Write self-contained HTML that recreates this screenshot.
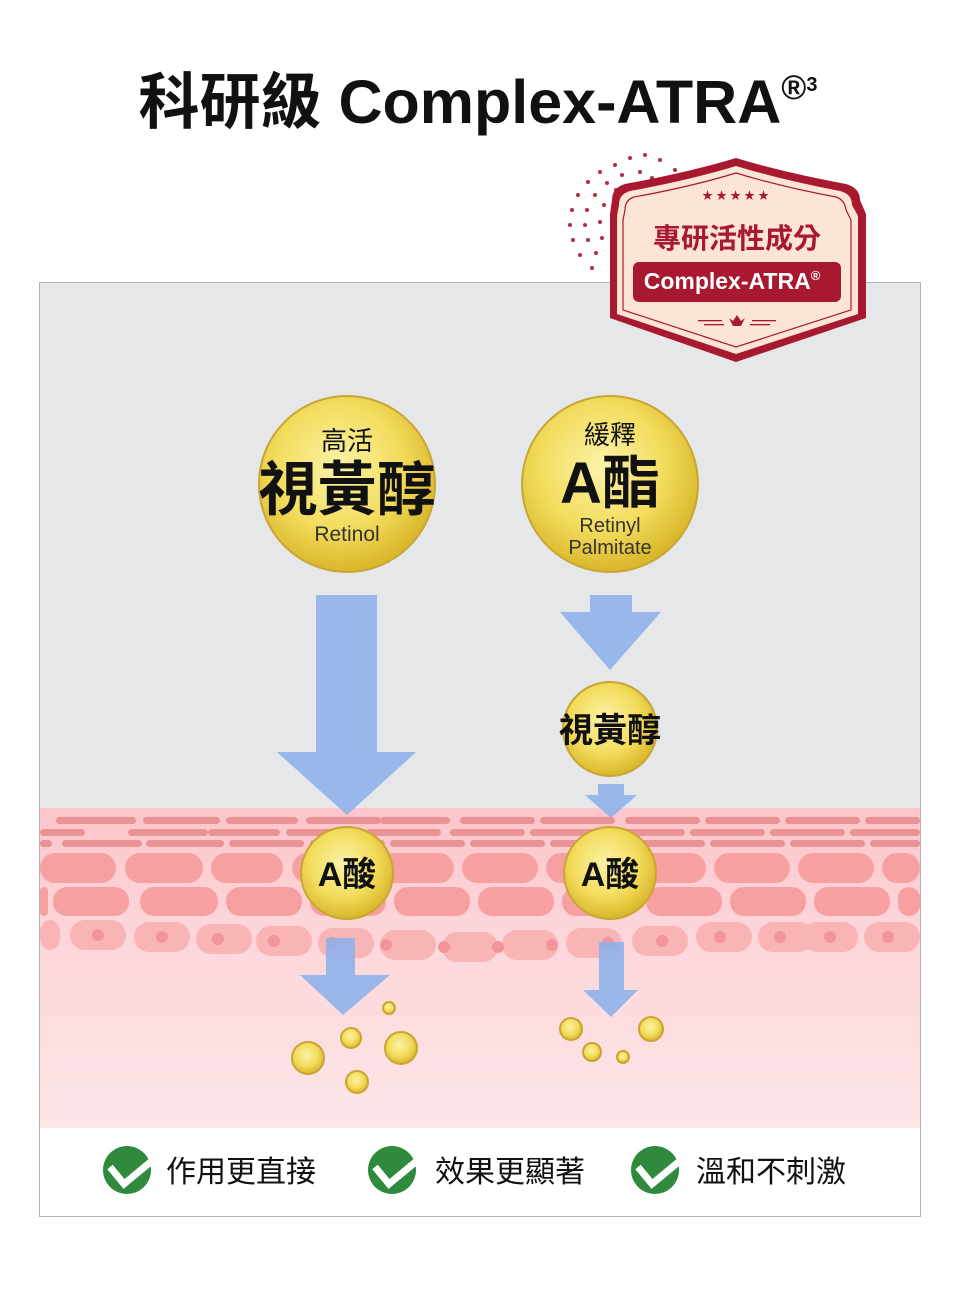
<!DOCTYPE html>
<html><head><meta charset="utf-8"><style>
html,body{margin:0;padding:0;background:#fff;}
body{width:960px;height:1289px;overflow:hidden;}
text{font-family:"Liberation Sans","Noto Sans CJK TC",sans-serif;}
</style></head><body>
<svg width="960" height="1289" viewBox="0 0 960 1289" xmlns="http://www.w3.org/2000/svg">
<defs>
<radialGradient id="gold" cx="45%" cy="40%" r="60%">
<stop offset="0" stop-color="#fbf3a8"/><stop offset="0.6" stop-color="#f3dc5c"/><stop offset="1" stop-color="#d9b62a"/>
</radialGradient>
<linearGradient id="skin" x1="0" y1="0" x2="0" y2="1">
<stop offset="0" stop-color="#fcc6cb"/><stop offset="0.4" stop-color="#fdd6da"/><stop offset="1" stop-color="#fde6e8"/>
</linearGradient>
</defs>
<text x="478" y="123" text-anchor="middle" font-size="61" font-weight="bold" fill="#111">科研級 Complex-ATRA<tspan font-size="34" dy="-24">®</tspan><tspan font-size="20" dy="-8">3</tspan></text>

<rect x="39.5" y="282.5" width="881" height="934" fill="#fff" stroke="#b5b5b5"/>
<rect x="40" y="283" width="880" height="527" fill="#e6e7e9"/>
<rect x="40" y="808" width="880" height="320" fill="url(#skin)"/>
<g fill="#e68a8b" opacity="0.85">
<rect x="56" y="817" width="80" height="7" rx="3.5"/><rect x="143" y="817" width="77" height="7" rx="3.5"/><rect x="226" y="817" width="72" height="7" rx="3.5"/><rect x="306" y="817" width="75" height="7" rx="3.5"/><rect x="380" y="817" width="70" height="7" rx="3.5"/><rect x="460" y="817" width="75" height="7" rx="3.5"/><rect x="540" y="817" width="75" height="7" rx="3.5"/><rect x="625" y="817" width="75" height="7" rx="3.5"/><rect x="705" y="817" width="75" height="7" rx="3.5"/><rect x="785" y="817" width="75" height="7" rx="3.5"/><rect x="865" y="817" width="55" height="7" rx="3.5"/>
<rect x="40" y="829" width="45" height="7" rx="3.5"/><rect x="128" y="829" width="80" height="7" rx="3.5"/><rect x="208" y="829" width="72" height="7" rx="3.5"/><rect x="286" y="829" width="75" height="7" rx="3.5"/><rect x="366" y="829" width="75" height="7" rx="3.5"/><rect x="450" y="829" width="75" height="7" rx="3.5"/><rect x="530" y="829" width="75" height="7" rx="3.5"/><rect x="610" y="829" width="75" height="7" rx="3.5"/><rect x="690" y="829" width="75" height="7" rx="3.5"/><rect x="770" y="829" width="75" height="7" rx="3.5"/><rect x="850" y="829" width="70" height="7" rx="3.5"/>
<rect x="40" y="840" width="12" height="7" rx="3.5"/><rect x="62" y="840" width="80" height="7" rx="3.5"/><rect x="146" y="840" width="78" height="7" rx="3.5"/><rect x="229" y="840" width="75" height="7" rx="3.5"/><rect x="310" y="840" width="75" height="7" rx="3.5"/><rect x="390" y="840" width="75" height="7" rx="3.5"/><rect x="470" y="840" width="75" height="7" rx="3.5"/><rect x="550" y="840" width="75" height="7" rx="3.5"/><rect x="630" y="840" width="75" height="7" rx="3.5"/><rect x="710" y="840" width="75" height="7" rx="3.5"/><rect x="790" y="840" width="75" height="7" rx="3.5"/><rect x="870" y="840" width="50" height="7" rx="3.5"/>
</g>
<g fill="#f7a0a2">
<rect x="40" y="853" width="76" height="30" rx="15"/><rect x="125" y="853" width="78" height="30" rx="15"/><rect x="211" y="853" width="72" height="30" rx="15"/><rect x="292" y="853" width="76" height="30" rx="15"/><rect x="378" y="853" width="76" height="30" rx="15"/><rect x="462" y="853" width="76" height="30" rx="15"/><rect x="546" y="853" width="76" height="30" rx="15"/><rect x="630" y="853" width="76" height="30" rx="15"/><rect x="714" y="853" width="76" height="30" rx="15"/><rect x="798" y="853" width="76" height="30" rx="15"/><rect x="882" y="853" width="38" height="30" rx="15"/>
<rect x="40" y="887" width="8" height="29" rx="4"/><rect x="53" y="887" width="76" height="29" rx="14"/><rect x="140" y="887" width="78" height="29" rx="14"/><rect x="226" y="887" width="76" height="29" rx="14"/><rect x="310" y="887" width="76" height="29" rx="14"/><rect x="394" y="887" width="76" height="29" rx="14"/><rect x="478" y="887" width="76" height="29" rx="14"/><rect x="562" y="887" width="76" height="29" rx="14"/><rect x="646" y="887" width="76" height="29" rx="14"/><rect x="730" y="887" width="76" height="29" rx="14"/><rect x="814" y="887" width="76" height="29" rx="14"/><rect x="898" y="887" width="22" height="29" rx="11"/>
</g>
<g fill="#f9b4b6">
<rect x="40" y="920" width="20" height="30" rx="12"/><rect x="70" y="920" width="56" height="30" rx="15"/><rect x="134" y="922" width="56" height="30" rx="15"/><rect x="196" y="924" width="56" height="30" rx="15"/><rect x="256" y="926" width="56" height="30" rx="15"/><rect x="318" y="928" width="56" height="30" rx="15"/><rect x="380" y="930" width="56" height="30" rx="15"/><rect x="442" y="932" width="56" height="30" rx="15"/><rect x="502" y="930" width="56" height="30" rx="15"/><rect x="566" y="928" width="56" height="30" rx="15"/><rect x="632" y="926" width="56" height="30" rx="15"/><rect x="696" y="922" width="56" height="30" rx="15"/><rect x="758" y="922" width="56" height="30" rx="15"/><rect x="802" y="922" width="56" height="30" rx="15"/><rect x="864" y="922" width="56" height="30" rx="15"/>
</g>
<g fill="#f2959a">
<circle cx="98" cy="935" r="6"/><circle cx="162" cy="937" r="6"/><circle cx="218" cy="939" r="6"/><circle cx="274" cy="941" r="6"/><circle cx="332" cy="943" r="6"/><circle cx="386" cy="945" r="6"/><circle cx="444" cy="947" r="6"/><circle cx="498" cy="947" r="6"/><circle cx="552" cy="945" r="6"/><circle cx="608" cy="943" r="6"/><circle cx="662" cy="941" r="6"/><circle cx="720" cy="937" r="6"/><circle cx="780" cy="937" r="6"/><circle cx="830" cy="937" r="6"/><circle cx="888" cy="937" r="6"/>
</g>
<rect x="40" y="1128" width="880" height="88" fill="#fff"/>

<g fill="#8fb1ea" opacity="0.9">
<path d="M316 595H377V752H416L347 815L277 752H316Z"/>
<path d="M590 595H632V612H661L610 670L560 612H590Z"/>
<path d="M598 784H624V795H637L611 818L585 795H598Z"/>
<path d="M326 938H355V975H390L343 1015L300 975H326Z"/>
<path d="M599 942H624V990H638L611 1017L583 990H599Z"/>
</g>

<g stroke="#c9a534" stroke-width="2" fill="url(#gold)">
<circle cx="347" cy="484" r="88"/><circle cx="610" cy="484" r="88"/>
<circle cx="610" cy="729" r="47"/>
<circle cx="347" cy="873" r="46"/><circle cx="610" cy="873" r="46"/>
<circle cx="308" cy="1058" r="16"/><circle cx="351" cy="1038" r="10"/><circle cx="401" cy="1048" r="16"/><circle cx="357" cy="1082" r="11"/><circle cx="389" cy="1008" r="6"/>
<circle cx="571" cy="1029" r="11"/><circle cx="592" cy="1052" r="9"/><circle cx="623" cy="1057" r="6"/><circle cx="651" cy="1029" r="12"/>
</g>
<g text-anchor="middle" fill="#111">
<text x="347" y="450" font-size="26">高活</text>
<text x="347" y="510" font-size="59" font-weight="bold">視黃醇</text>
<text x="347" y="541" font-size="21" fill="#333">Retinol</text>
<text x="610" y="444" font-size="26">緩釋</text>
<text x="610" y="503" font-size="58" font-weight="bold">A酯</text>
<text x="610" y="532" font-size="20" fill="#333">Retinyl</text>
<text x="610" y="554" font-size="20" fill="#333">Palmitate</text>
<text x="610" y="742" font-size="34" font-weight="bold">視黃醇</text>
<text x="347" y="886" font-size="34" font-weight="bold">A酸</text>
<text x="610" y="886" font-size="34" font-weight="bold">A酸</text>
</g>

<g fill="#a8182e">
<g opacity="0.9">
<circle cx="630" cy="158" r="2"/><circle cx="615" cy="165" r="2"/><circle cx="600" cy="172" r="2"/><circle cx="588" cy="182" r="2"/><circle cx="578" cy="195" r="2"/><circle cx="572" cy="210" r="2"/><circle cx="570" cy="225" r="2"/><circle cx="573" cy="240" r="2"/><circle cx="580" cy="255" r="2"/><circle cx="592" cy="268" r="2"/>
<circle cx="645" cy="155" r="2"/><circle cx="622" cy="175" r="2"/><circle cx="607" cy="183" r="2"/><circle cx="595" cy="195" r="2"/><circle cx="587" cy="210" r="2"/><circle cx="585" cy="225" r="2"/><circle cx="588" cy="240" r="2"/><circle cx="596" cy="253" r="2"/>
<circle cx="660" cy="160" r="2"/><circle cx="640" cy="172" r="2"/><circle cx="616" cy="190" r="2"/><circle cx="604" cy="205" r="2"/><circle cx="600" cy="222" r="2"/><circle cx="602" cy="238" r="2"/>
<circle cx="675" cy="170" r="2"/><circle cx="652" cy="178" r="2"/><circle cx="632" cy="186" r="2"/>
</g>
<path d="M612 200 Q612 188 625 184 Q690 172 736 158 Q782 172 846 184 Q860 188 860 200 L866 214 V318 L736 362 L610 318 V214 Z" fill="#a8182e"/>
<path d="M619 205 Q619 194 630 191 Q690 180 736 166 Q782 180 840 191 Q852 194 852 205 L858 216 V314 L736 354 L617 314 V216 Z" fill="#fde5d6"/>
<path d="M625 210 Q625 200 634 197 Q690 187 736 173 Q782 187 836 197 Q845 200 846 210 L851 220 V310 L736 347 L623 310 V220 Z" fill="none" stroke="#a8182e" stroke-width="1.2"/>
<rect x="633" y="262" width="208" height="40" rx="6"/>
<text x="737" y="248" text-anchor="middle" font-size="28" font-weight="bold">專研活性成分</text>
<text x="732" y="289" text-anchor="middle" font-size="23" font-weight="bold" fill="#fff">Complex-ATRA<tspan font-size="13" dy="-9">®</tspan></text>
<text x="737" y="199" text-anchor="middle" font-size="11" letter-spacing="3">★★★★★</text>
<path d="M729 318 L733 326 H741 L745 318 L741 321 L737 315 L733 321Z"/>
<rect x="698" y="320" width="24" height="1.3"/><rect x="704" y="324" width="20" height="1.3"/><rect x="752" y="320" width="24" height="1.3"/><rect x="750" y="324" width="20" height="1.3"/>
</g>

<g>
<circle cx="127" cy="1170" r="24" fill="#2f8a3d"/>
<path d="M110 1167 L124 1184 L165 1150" stroke="#fff" stroke-width="7" fill="none"/>
<path d="M112 1166 L124 1180 L163 1152" stroke="#2f8a3d" stroke-width="2" fill="none" opacity="0"/>
<text x="166" y="1182" font-size="30" fill="#111">作用更直接</text>
<circle cx="392" cy="1170" r="24" fill="#2f8a3d"/>
<path d="M375 1167 L389 1184 L430 1150" stroke="#fff" stroke-width="7" fill="none"/>
<text x="435" y="1182" font-size="30" fill="#111">效果更顯著</text>
<circle cx="655" cy="1170" r="24" fill="#2f8a3d"/>
<path d="M638 1167 L652 1184 L693 1150" stroke="#fff" stroke-width="7" fill="none"/>
<text x="696" y="1182" font-size="30" fill="#111">溫和不刺激</text>
</g>
</svg>
</body></html>
